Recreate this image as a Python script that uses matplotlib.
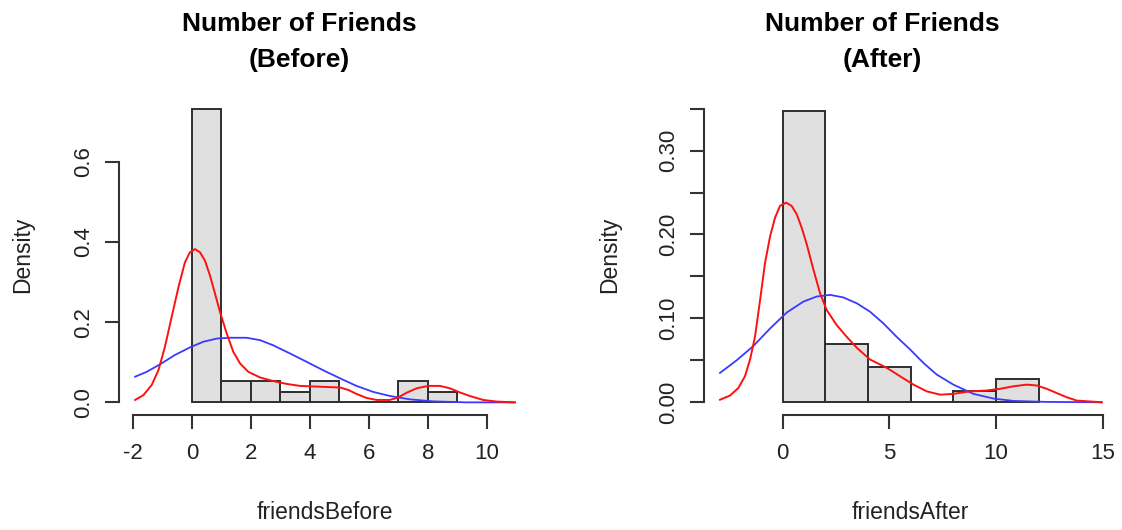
import matplotlib
matplotlib.use('Agg')
import matplotlib.pyplot as plt

plt.rcParams['font.family'] = ['Liberation Sans', 'DejaVu Sans']

# histogram of friendsBefore (bin width 1)
before_edges = [0, 1, 2, 3, 4, 5, 6, 7, 8, 9]
before_density = [0.73, 0.054, 0.054, 0.027, 0.054, 0, 0, 0.054, 0.027]

# density curve (red)
before_kde_x = [-1.93, -1.65, -1.37, -1.14, -0.92, -0.69, -0.46, -0.24, -0.07, 0.10, 0.27, 0.44,
                0.61, 0.78, 0.95, 1.18, 1.40, 1.63, 1.91, 2.31, 2.76, 3.21, 3.66, 4.34, 5.02,
                5.30, 5.58, 5.92, 6.26, 6.71, 6.99, 7.28, 7.62, 8.01, 8.41, 8.75, 9.08, 9.42,
                9.88, 10.33, 10.95]
before_kde_y = [0.006, 0.018, 0.043, 0.080, 0.138, 0.213, 0.287, 0.349, 0.374, 0.382, 0.374, 0.353,
                0.316, 0.271, 0.225, 0.171, 0.126, 0.097, 0.076, 0.062, 0.053, 0.046, 0.041, 0.039,
                0.037, 0.031, 0.021, 0.011, 0.006, 0.006, 0.012, 0.024, 0.035, 0.041, 0.041, 0.035,
                0.025, 0.016, 0.006, 0.002, 0.0]

# normal curve (blue)
before_norm_x = [-1.93, -1.54, -1.08, -0.58, -0.07, 0.38, 0.84, 1.29, 1.85, 2.31, 2.76, 3.32,
                 3.89, 4.45, 5.02, 5.58, 6.15, 6.71, 7.39, 8.18, 9.31, 10.95]
before_norm_y = [0.064, 0.076, 0.095, 0.118, 0.137, 0.151, 0.159, 0.161, 0.161, 0.155, 0.142, 0.122,
                 0.101, 0.080, 0.060, 0.041, 0.026, 0.016, 0.0075, 0.0025, 0.0, 0.0]

# histogram of friendsAfter (bin width 2)
after_edges = [0, 2, 4, 6, 8, 10, 12]
after_density = [0.347, 0.069, 0.042, 0, 0.014, 0.028]

after_kde_x = [-2.94, -2.47, -2.08, -1.77, -1.53, -1.30, -1.06, -0.83, -0.59, -0.36, -0.13, 0.16,
               0.42, 0.66, 0.89, 1.13, 1.44, 1.75, 2.06, 2.53, 3.0, 3.47, 4.09, 4.88, 5.5,
               6.13, 6.75, 7.38, 8.0, 8.78, 9.56, 10.19, 10.81, 11.44, 11.91, 12.38, 12.84,
               13.31, 13.78, 14.95]
after_kde_y = [0.003, 0.008, 0.017, 0.031, 0.051, 0.078, 0.122, 0.166, 0.198, 0.220, 0.234, 0.238,
               0.234, 0.224, 0.208, 0.188, 0.158, 0.130, 0.110, 0.092, 0.078, 0.065, 0.051, 0.041,
               0.031, 0.021, 0.013, 0.009, 0.010, 0.013, 0.014, 0.016, 0.019, 0.021, 0.020, 0.016,
               0.011, 0.006, 0.002, 0.0]

after_norm_x = [-2.94, -2.16, -1.38, -0.59, 0.19, 0.97, 1.59, 2.22, 2.84, 3.47, 4.09, 4.72,
                5.34, 5.97, 6.59, 7.22, 8.0, 8.94, 9.88, 10.81, 12.38, 14.95]
after_norm_y = [0.035, 0.050, 0.067, 0.088, 0.107, 0.120, 0.126, 0.128, 0.125, 0.118, 0.108, 0.094,
                0.078, 0.063, 0.047, 0.033, 0.021, 0.010, 0.0044, 0.0016, 0.0004, 0.0]

before_xticks = [-2, 0, 2, 4, 6, 8, 10]
before_yticks = [0.0, 0.2, 0.4, 0.6]
before_ylabels = ['0.0', '0.2', '0.4', '0.6']
after_xticks = [0, 5, 10, 15]
after_yticks = [0.0, 0.05, 0.10, 0.15, 0.20, 0.25, 0.30, 0.35]
after_ylabels = ['0.00', '', '0.10', '', '0.20', '', '0.30', '']

BAR = '#e0e0e0'
EDGE = '#2e2e2e'
AX = '#333333'


def draw(ax, edges, dens, kx, ky, nx, ny, xt, yt, yl, xlim, ylim, xlabel):
    widths = [edges[i + 1] - edges[i] for i in range(len(dens))]
    ax.bar(edges[:-1], dens, width=widths, align='edge', color=BAR,
           edgecolor=EDGE, linewidth=1.4, zorder=1)
    ax.plot(kx, ky, color='#ff1010', lw=1.4, zorder=3, solid_joinstyle='round')
    ax.plot(nx, ny, color='#3a3aff', lw=1.3, zorder=2, solid_joinstyle='round')
    ax.set_xlim(*xlim)
    ax.set_ylim(*ylim)
    for s in ['top', 'right']:
        ax.spines[s].set_visible(False)
    for s in ['left', 'bottom']:
        ax.spines[s].set_color(AX)
        ax.spines[s].set_linewidth(1.5)
    ax.spines['left'].set_bounds(yt[0], yt[-1])
    ax.spines['bottom'].set_bounds(xt[0], xt[-1])
    ax.set_xticks(xt)
    ax.set_xticklabels([str(v) for v in xt])
    ax.set_yticks(yt)
    ax.set_yticklabels(yl, rotation=90, va='center')
    ax.tick_params(axis='both', length=10, width=1.5, color=AX,
                   labelsize=16, labelcolor='#222222')
    ax.tick_params(axis='x', pad=10)
    ax.tick_params(axis='y', pad=8)
    ax.set_xlabel(xlabel, fontsize=16.5, color='#222222', va='center')
    ax.set_ylabel('Density', fontsize=16.5, color='#222222', va='center')


fig = plt.figure(figsize=(11.22, 5.3), dpi=100)
ax1 = fig.add_axes([119 / 1122, 115 / 530, 412 / 1122, 320 / 530])
ax2 = fig.add_axes([704 / 1122, 115 / 530, 413 / 1122, 320 / 530])

draw(ax1, before_edges, before_density, before_kde_x, before_kde_y,
     before_norm_x, before_norm_y, before_xticks, before_yticks, before_ylabels,
     (-2.477, 11.50), (-0.0315, 0.766), 'friendsBefore')
draw(ax2, after_edges, after_density, after_kde_x, after_kde_y,
     after_norm_x, after_norm_y, after_xticks, after_yticks, after_ylabels,
     (-3.69, 15.67), (-0.0152, 0.3663), 'friendsAfter')

ax1.xaxis.set_label_coords(0.5, -0.306)
ax2.xaxis.set_label_coords(0.5, -0.306)
ax1.yaxis.set_label_coords(-0.233, 0.5)
ax2.yaxis.set_label_coords(-0.2276, 0.5)

for xc, sub in [(299, '(Before)'), (882, '(After)')]:
    fig.text(xc / 1122, 1 - 24 / 530, 'Number of Friends', ha='center', va='center',
             fontsize=19, fontweight='bold')
    fig.text(xc / 1122, 1 - 60 / 530, sub, ha='center', va='center',
             fontsize=19, fontweight='bold')

fig.savefig('out.png', dpi=100)
